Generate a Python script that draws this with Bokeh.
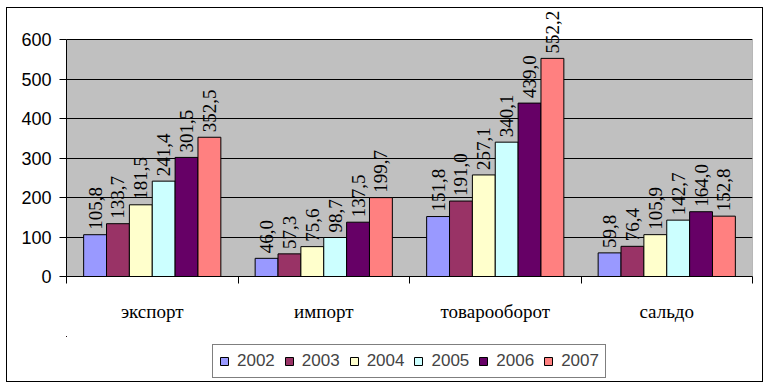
import math
from bokeh.plotting import figure
from bokeh.layouts import column
from bokeh.core.properties import value
from bokeh.models import (ColumnDataSource, Range1d, LinearAxis, FixedTicker,
                          CustomJSTickFormatter, LabelSet, Legend, LegendItem)
from bokeh.embed import file_html
from bokeh.resources import INLINE

categories = ["экспорт", "импорт", "товарооборот", "сальдо"]
years = ["2002", "2003", "2004", "2005", "2006", "2007"]
colors = ["#9999FF", "#993366", "#FFFFCC", "#CCFFFF", "#660066", "#FF8080"]

export_vals = [105.8, 133.7, 181.5, 241.4, 301.5, 352.5]
import_vals = [46.0, 57.3, 75.6, 98.7, 137.5, 199.7]
turnover_vals = [151.8, 191.0, 257.1, 340.1, 439.0, 552.2]
saldo_vals = [59.8, 76.4, 105.9, 142.7, 164.0, 152.8]
series = [export_vals, import_vals, turnover_vals, saldo_vals]

y_ticks = [0, 100, 200, 300, 400, 500, 600]

SERIF = "'Liberation Serif'"
SANS = "'Liberation Sans'"

y_max = y_ticks[-1]
y_top = y_max * 268 / 237  # headroom above the grey area for value labels

p = figure(width=755, height=328, output_backend="svg", toolbar_location=None,
           x_range=Range1d(0, len(categories)), y_range=Range1d(0, y_top),
           x_axis_location=None, y_axis_location=None,
           min_border_left=59, min_border_right=10, min_border_top=0,
           min_border_bottom=60)
p.background_fill_color = "white"
p.border_fill_color = "white"
p.outline_line_color = None
p.xgrid.visible = False

# grey plot area
p.quad(left=[0], right=[len(categories)], bottom=[0], top=[y_max],
       fill_color="#C0C0C0", line_color="#808080", line_width=1, level="image")
p.ygrid.ticker = FixedTicker(ticks=y_ticks[1:])
p.ygrid.grid_line_color = "black"
p.ygrid.grid_line_width = 1
p.ygrid.level = "image"

group_w = 0.8
bar_w = group_w / len(years)
sources = []
for j, yr in enumerate(years):
    xs = [i + (1 - group_w) / 2 + bar_w * (j + 0.5) for i in range(len(categories))]
    tops = [s[j] for s in series]
    labels = [f"{v:.1f}".replace(".", ",") for v in tops]
    src = ColumnDataSource(dict(x=xs, top=tops, label=labels))
    sources.append(src)
    p.vbar(x="x", top="top", width=bar_w, source=src, fill_color=colors[j],
           line_color="black", line_width=1)
    ls = LabelSet(x="x", y="top", text="label", source=src, angle=math.pi / 2,
                  text_align="left", text_baseline="middle", y_offset=5,
                  text_font=value(SERIF), text_font_size=value("19px"),
                  text_color="black")
    p.add_layout(ls)

yaxis = LinearAxis(ticker=FixedTicker(ticks=y_ticks), bounds=(0, y_max))
yaxis.axis_line_color = "black"
yaxis.major_tick_out = 7
yaxis.major_tick_in = 0
yaxis.minor_tick_line_color = None
yaxis.major_label_standoff = 8
yaxis.major_label_text_font = SANS
yaxis.major_label_text_font_size = "18px"
yaxis.major_label_text_color = "black"
p.add_layout(yaxis, "left")

xaxis = LinearAxis(ticker=FixedTicker(ticks=list(range(len(categories) + 1))))
xaxis.axis_line_color = "black"
xaxis.major_tick_out = 7
xaxis.major_tick_in = 0
xaxis.minor_tick_line_color = None
xaxis.major_label_text_font_size = "1px"
xaxis.major_label_text_alpha = 0
xaxis.major_label_standoff = 0
p.add_layout(xaxis, "below")

cataxis = LinearAxis(ticker=FixedTicker(ticks=[i + 0.5 for i in range(len(categories))]),
                     formatter=CustomJSTickFormatter(args=dict(labels=categories),
                                                     code="return labels[Math.floor(tick)];"))
cataxis.axis_line_color = None
cataxis.major_tick_line_color = None
cataxis.minor_tick_line_color = None
cataxis.major_label_standoff = 11
cataxis.major_label_text_font = SERIF
cataxis.major_label_text_font_size = "19px"
cataxis.major_label_text_color = "black"
p.add_layout(cataxis, "below")

# legend strip (proxy bars sit far outside its visible ranges)
q = figure(width=755, height=45, output_backend="svg", toolbar_location=None,
           x_range=Range1d(100, 101), y_range=Range1d(-2, -1),
           x_axis_location=None, y_axis_location=None,
           min_border_left=0, min_border_right=0, min_border_top=0,
           min_border_bottom=0)
q.outline_line_color = None
q.background_fill_color = "white"
q.border_fill_color = "white"
q.grid.visible = False
items = []
for j, yr in enumerate(years):
    r = q.vbar(x="x", top="top", width=bar_w, source=sources[j],
               fill_color=colors[j], line_color="black", line_width=1)
    items.append(LegendItem(label=yr, renderers=[r]))

legend = Legend(items=items, orientation="horizontal", location=(146, 3))
legend.border_line_color = "black"
legend.border_line_width = 1
legend.background_fill_color = "white"
legend.background_fill_alpha = 1
legend.label_text_font = SANS
legend.label_text_font_size = "17px"
legend.glyph_width = 10
legend.glyph_height = 10
legend.label_standoff = 8
legend.spacing = 9
legend.padding = 6
legend.margin = 0
legend.label_height = 20
q.add_layout(legend, "center")

layout = column(p, q, spacing=0)
layout.styles = {"margin": "7px 0 0 6px", "border": "1px solid black"}

open("out.html", "w").write(file_html(layout, INLINE))
